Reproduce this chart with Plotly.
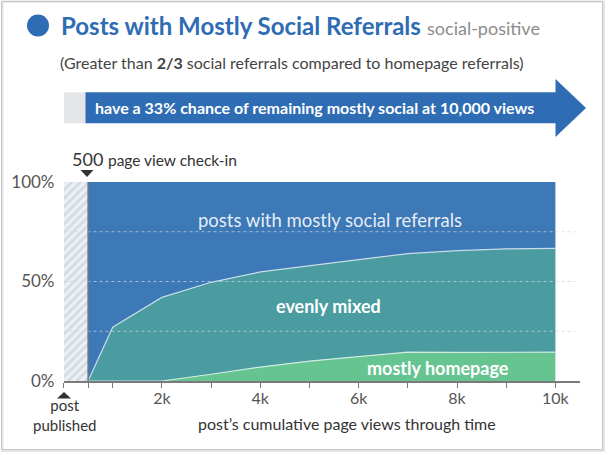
import plotly.graph_objects as go

W, H = 608, 455

# ---- data ----
views = [500, 1000, 2000, 3000, 4000, 5000, 6000, 7000, 8000, 9000, 10000]
mostly_homepage = [0, 0, 0, 3.4, 7.0, 10.0, 12.2, 14.5, 14.4, 14.3, 14.5]
evenly_mixed = [0, 27.0, 42.0, 46.2, 47.8, 48.0, 48.8, 49.5, 51.1, 52.1, 52.1]
mostly_social = [100, 73.0, 58.0, 50.4, 45.2, 42.0, 39.0, 36.0, 34.5, 33.6, 33.4]
checkin_views = 500
x_tick_vals = [0, 500, 1000, 2000, 3000, 4000, 5000, 6000, 7000, 8000, 9000, 10000]
x_tick_text = ["", "", "", "2k", "", "4k", "", "6k", "", "8k", "", "10k"]
y_tick_vals = [0, 50, 100]
y_tick_text = ["0%", "50%", "100%"]
grid_levels = [25, 50, 75]

FONT = "Lato"
BLUE = "#3d78b7"
TEAL = "#4a9ca0"
GREEN = "#66c491"
DARK_BLUE = "#2e6cb3"

def fx(px):
    return px / W

def fy(py):
    return 1 - py / H

fig = go.Figure()

# hatched pre-check-in region
fig.add_trace(go.Bar(
    x=[checkin_views / 2], y=[100], width=[checkin_views],
    marker=dict(color="#edf0f4", line=dict(width=0),
                pattern=dict(shape="/", fgcolor="#b9c5d3", bgcolor="#edf0f4",
                             size=6, solidity=0.45)),
    hoverinfo="skip", showlegend=False))

fig.add_trace(go.Scatter(
    x=views, y=mostly_homepage, stackgroup="s", mode="lines",
    line=dict(color="rgba(225,245,232,0.85)", width=1.2),
    fillcolor=GREEN, name="mostly homepage", showlegend=False))
fig.add_trace(go.Scatter(
    x=views, y=evenly_mixed, stackgroup="s", mode="lines",
    line=dict(color="rgba(215,232,240,0.85)", width=1.2),
    fillcolor=TEAL, name="evenly mixed", showlegend=False))
fig.add_trace(go.Scatter(
    x=views, y=mostly_social, stackgroup="s", mode="lines",
    line=dict(color=BLUE, width=0),
    fillcolor=BLUE, name="mostly social", showlegend=False))

shapes = []
# dotted grid lines
for g in grid_levels:
    shapes.append(dict(type="line", xref="x", yref="y", x0=0, x1=10400, y0=g, y1=g,
                       line=dict(color="rgba(205,212,222,0.75)", width=1, dash="dot"),
                       layer="above"))
# check-in vertical line
shapes.append(dict(type="line", xref="x", yref="y", x0=checkin_views, x1=checkin_views,
                   y0=0, y1=100, line=dict(color="#6d7886", width=1.5), layer="above"))
# title circle
shapes.append(dict(type="circle", xref="paper", yref="paper",
                   x0=fx(27), x1=fx(49), y0=fy(36.5), y1=fy(14.5),
                   fillcolor=DARK_BLUE, line=dict(width=0)))
# arrow
shapes.append(dict(type="rect", xref="paper", yref="paper",
                   x0=fx(64), x1=fx(86), y0=fy(123.3), y1=fy(92.3),
                   fillcolor="#e3e5e8", line=dict(width=0)))
shapes.append(dict(type="rect", xref="paper", yref="paper",
                   x0=fx(85.5), x1=fx(556.5), y0=fy(123.3), y1=fy(92.3),
                   fillcolor=DARK_BLUE, line=dict(width=0)))
shapes.append(dict(type="path", xref="paper", yref="paper",
                   path=f"M{fx(555.5)},{fy(79)} L{fx(586)},{fy(108)} L{fx(555.5)},{fy(137)} Z",
                   fillcolor=DARK_BLUE, line=dict(width=0)))
# check-in triangle
shapes.append(dict(type="path", xref="paper", yref="paper",
                   path=f"M{fx(80.5)},{fy(170)} L{fx(93.5)},{fy(170)} L{fx(87)},{fy(177)} Z",
                   fillcolor="#333", line=dict(width=0)))
# post published triangle
shapes.append(dict(type="path", xref="paper", yref="paper",
                   path=f"M{fx(57)},{fy(398.5)} L{fx(71)},{fy(398.5)} L{fx(64)},{fy(392)} Z",
                   fillcolor="#333", line=dict(width=0)))
# frame
shapes.append(dict(type="rect", xref="paper", yref="paper",
                   x0=fx(2.5), x1=fx(604), y0=fy(451), y1=fy(1.5),
                   line=dict(color="#e4e4e4", width=2)))
shapes.append(dict(type="rect", xref="paper", yref="paper",
                   x0=fx(1.5), x1=fx(602.5), y0=fy(449.5), y1=fy(1.5),
                   line=dict(color="#c4c4c4", width=1)))

ann = []
def text(x, y, t, size, color="#444", xanchor="left", align="left"):
    ann.append(dict(xref="paper", yref="paper", x=fx(x), y=fy(y), text=t,
                    showarrow=False, xanchor=xanchor, yanchor="middle",
                    font=dict(family=FONT, size=size, color=color),
                    align=align, borderpad=0))

text(60, 25, "<b>Posts with Mostly Social Referrals</b> "
     "<span style='font-size:18px;color:#8c8c8c'>social-positive</span>", 24, DARK_BLUE)
text(59, 63, "(Greater than <b>2/3</b> social referrals compared to homepage referrals)", 16, "#444")
text(94, 107, "<b>have a 33% chance of remaining mostly social at 10,000 views</b>", 16, "white")
text(71, 159, "500 <span style='font-size:15.5px'>page view check-in</span>", 18, "#333")
text(330, 220, "posts with mostly social referrals", 18.5, "rgba(255,255,255,0.88)", "center")
text(329, 306, "<b>evenly mixed</b>", 18, "white", "center")
text(438, 368, "<b>mostly homepage</b>", 18, "white", "center")
text(65, 414.5, "post<br>published", 15, "#333", "center", "center")
text(347, 423, "post’s cumulative page views through time", 16, "#333", "center")

fig.update_layout(
    width=W, height=H,
    margin=dict(l=0, r=0, t=0, b=0, pad=0, autoexpand=False),
    paper_bgcolor="white", plot_bgcolor="white",
    font=dict(family=FONT),
    showlegend=False,
    bargap=0,
    shapes=shapes,
    annotations=ann,
    xaxis=dict(domain=[63.5 / W, 580 / W], range=[0, 10500], automargin=False,
               showgrid=False, zeroline=False, showline=True,
               linecolor="#7a7a7a", linewidth=1.5,
               ticks="outside", ticklen=5, tickcolor="#7a7a7a", tickwidth=1,
               tickvals=x_tick_vals, ticktext=x_tick_text,
               tickfont=dict(family=FONT, size=16, color="#555"),
               ticklabelstandoff=-3, fixedrange=True),
    yaxis=dict(domain=[74 / H, 273 / H], range=[0, 100], automargin=False,
               showgrid=False, zeroline=False, showline=False, ticks="",
               tickvals=y_tick_vals, ticktext=y_tick_text,
               tickfont=dict(family=FONT, size=17, color="#555"),
               ticklabelstandoff=8, fixedrange=True),
)

fig.write_html("out.html", config={"displayModeBar": False},
               post_script="document.body.style.margin='0';document.body.style.padding='0';")
